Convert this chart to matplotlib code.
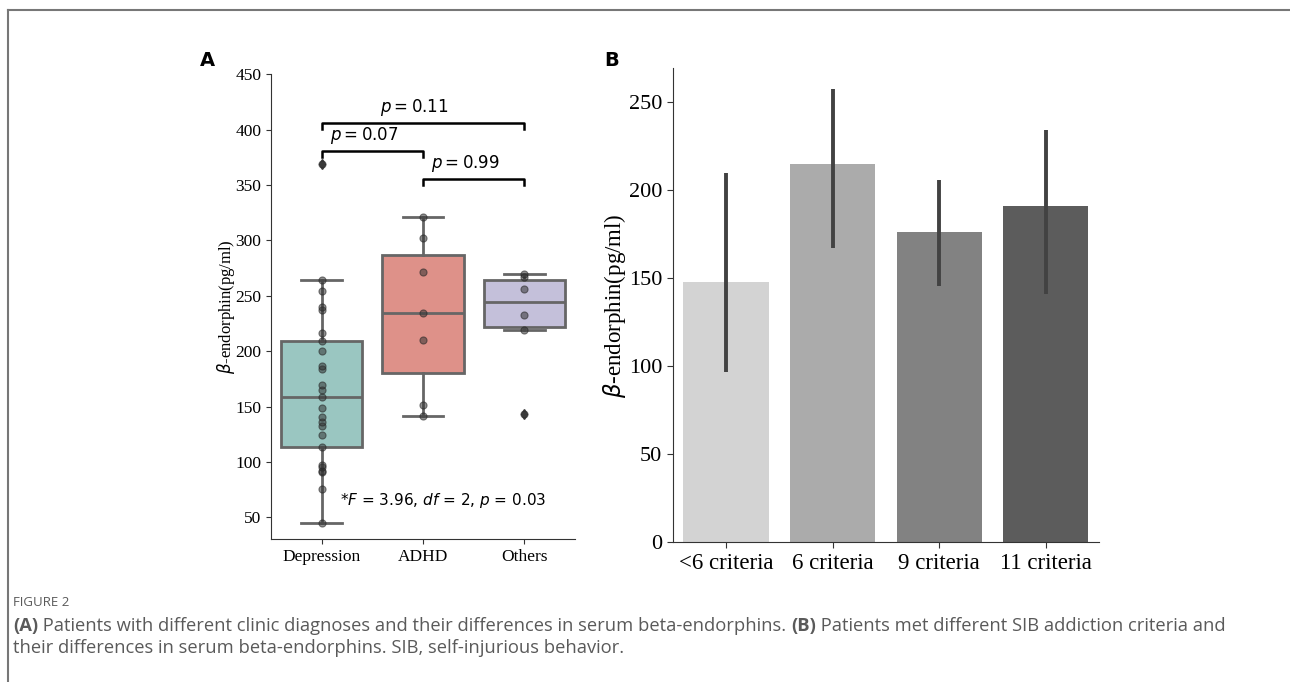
import numpy as np
import matplotlib
matplotlib.use("Agg")
import matplotlib.pyplot as plt
from matplotlib.lines import Line2D

# ---- data ----
groups = ["Depression", "ADHD", "Others"]
depression = [44.9, 76.0, 90.7, 91.6, 95.5, 97.6, 113.2, 124.4, 132.5, 135.8,
              141.0, 148.8, 158.4, 165.0, 169.6, 183.7, 187.0, 200.3, 209.0,
              216.0, 237.3, 239.5, 254.5, 264.2, 368.7]
adhd = [141.5, 151.5, 209.7, 234.6, 271.4, 302.1, 321.3]
others = [143.4, 218.7, 232.5, 256.3, 266.6, 269.6]
box_colors = ["#9ac6c1", "#de9189", "#c4c0da"]

# pairwise p-values: (left group, right group, bracket y, label)
pairs = [(0, 1, 380.4, "$p = 0.07$"),
         (1, 2, 355.1, "$p = 0.99$"),
         (0, 2, 405.7, "$p = 0.11$")]
anova_text = "*$F$ = 3.96, $df$ = 2, $p$ = 0.03"

criteria = ["<6 criteria", "6 criteria", "9 criteria", "11 criteria"]
means = [147.9, 214.9, 175.9, 190.7]
ci_low = [96.4, 167.0, 145.2, 140.9]
ci_high = [209.6, 257.5, 205.7, 233.9]
bar_colors = ["#d3d3d3", "#ababab", "#828282", "#5c5c5c"]

serif = ["Liberation Serif", "DejaVu Serif"]
plt.rcParams["mathtext.fontset"] = "dejavusans"

fig = plt.figure(figsize=(12.9, 6.82), dpi=100)

# ---------------- panel A ----------------
axA = fig.add_axes([0.2101, 0.2090, 0.2356, 0.6821])
data = [depression, adhd, others]
bp = axA.boxplot(data, positions=range(3), widths=0.8, patch_artist=True,
                 manage_ticks=False,
                 boxprops=dict(edgecolor="#666666", linewidth=2),
                 medianprops=dict(color="#666666", linewidth=2),
                 whiskerprops=dict(color="#666666", linewidth=2),
                 capprops=dict(color="#666666", linewidth=2),
                 flierprops=dict(marker="d", markerfacecolor="#444444",
                                 markeredgecolor="#444444", markersize=5))
for patch, c in zip(bp["boxes"], box_colors):
    patch.set_facecolor(c)
for i, vals in enumerate(data):
    axA.scatter(np.full(len(vals), i), vals, s=26, color="#333333",
                alpha=0.55, edgecolor="#222222", linewidth=0.8, zorder=5)

for a, b, y, lab in pairs:
    h = 5.4
    axA.plot([a, a, b, b], [y - h, y, y, y - h], color="black", lw=1.8)
    axA.annotate(lab, ((a + b) / 2, y + 14.5), xytext=(-6, 0),
                 textcoords="offset points", ha="center", va="center",
                 fontsize=12)
axA.text(1.2, 65.4, anova_text, ha="center", va="center", fontsize=11)

axA.set_xlim(-0.5, 2.5)
axA.set_ylim(30, 450)
axA.set_yticks(range(50, 451, 50))
axA.set_xticks(range(3))
axA.set_xticklabels(groups, family=serif, fontsize=12.5)
for t in axA.get_yticklabels():
    t.set_family(serif)
    t.set_fontsize(12.5)
axA.set_ylabel(r"$\beta$-endorphin(pg/ml)", family=serif, fontsize=12,
               labelpad=-1)
axA.spines[["top", "right"]].set_visible(False)
for s in ["left", "bottom"]:
    axA.spines[s].set_color("#333333")
axA.tick_params(colors="#333333", labelcolor="black", length=3.5)

# ---------------- panel B ----------------
axB = fig.add_axes([0.5215, 0.2048, 0.3305, 0.6951])
x = np.arange(len(criteria))
axB.bar(x, means, width=0.8, color=bar_colors)
axB.vlines(x, ci_low, ci_high, color="#424242", lw=2.8)
axB.set_xlim(-0.5, 3.5)
axB.set_ylim(0, 269)
axB.set_yticks(range(0, 251, 50))
axB.set_xticks(x)
axB.set_xticklabels(criteria, family=serif, fontsize=16.5)
for t in axB.get_yticklabels():
    t.set_family(serif)
    t.set_fontsize(16)
axB.set_ylabel(r"$\beta$-endorphin(pg/ml)", family=serif, fontsize=16.5,
               labelpad=1)
axB.spines[["top", "right"]].set_visible(False)
for s in ["left", "bottom"]:
    axB.spines[s].set_color("#333333")
axB.tick_params(colors="#333333", labelcolor="black", length=4)

# panel letters
fig.text(207 / 1290, 1 - 60 / 682, "A", fontsize=14, fontweight="bold",
         ha="center", va="center", family="DejaVu Sans")
fig.text(612 / 1290, 1 - 60 / 682, "B", fontsize=14, fontweight="bold",
         ha="center", va="center", family="DejaVu Sans")

# frame lines
fig.add_artist(Line2D([7.5 / 1290, 1], [1 - 9.5 / 682, 1 - 9.5 / 682],
                      color="#777777", lw=1.5, transform=fig.transFigure))
fig.add_artist(Line2D([7.5 / 1290, 7.5 / 1290], [0, 1 - 9.5 / 682],
                      color="#777777", lw=1.5, transform=fig.transFigure))

# caption
cap = ["Open Sans", "DejaVu Sans"]
fig.text(13 / 1290, 1 - 603 / 682, "FIGURE 2", fontsize=9.5, color="#5a5a5a",
         va="center", family=cap)
line1 = [("(A)", "bold"),
         (" Patients with different clinic diagnoses and their differences in serum beta-endorphins. ", "normal"),
         ("(B)", "bold"),
         (" Patients met different SIB addiction criteria and", "normal")]
xpos = 13 / 1290
renderer = fig.canvas.get_renderer()
for s, w in line1:
    t = fig.text(xpos, 1 - 626 / 682, s, fontsize=13.2, color="#5a5a5a",
                 va="center", fontweight=w, family=cap)
    bb = t.get_window_extent(renderer=renderer)
    xpos += bb.width / 1290
fig.text(13 / 1290, 1 - 648 / 682,
         "their differences in serum beta-endorphins. SIB, self-injurious behavior.",
         fontsize=13.2, color="#5a5a5a", va="center", family=cap)

fig.savefig("out.png", dpi=100)
